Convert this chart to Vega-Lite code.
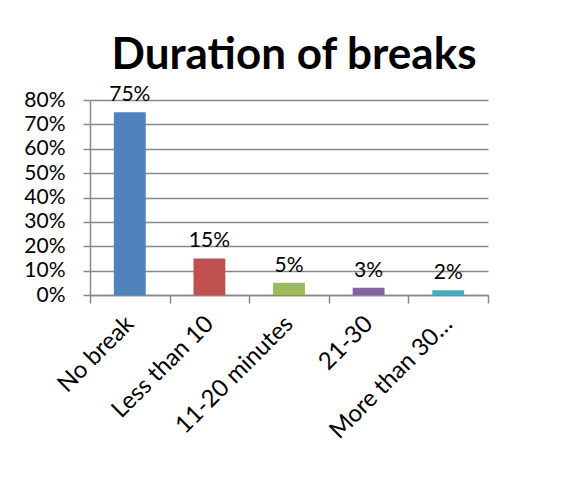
{
  "$schema": "https://vega.github.io/schema/vega-lite/v6.json",
  "autosize": "none",
  "width": 398,
  "height": 195,
  "padding": {"left": 90, "top": 100, "right": 79, "bottom": 190},
  "background": "white",
  "title": {
    "text": "Duration of breaks",
    "font": "Lato",
    "fontWeight": "bold",
    "fontSize": 44,
    "color": "black",
    "anchor": "middle",
    "baseline": "alphabetic",
    "dx": 5,
    "offset": -29
  },
  "data": {
    "values": [
      {"category": "No break", "share": 0.75},
      {"category": "Less than 10", "share": 0.15},
      {"category": "11-20 minutes", "share": 0.05},
      {"category": "21-30", "share": 0.03},
      {"category": "More than 30…", "share": 0.02}
    ]
  },
  "encoding": {
    "x": {
      "field": "category",
      "type": "nominal",
      "sort": null,
      "scale": {"paddingInner": 0, "paddingOuter": 0},
      "axis": {
        "title": null,
        "tickBand": "extent",
        "labelAngle": -45,
        "labelAlign": "right",
        "labelBaseline": "middle",
        "labelPadding": 17,
        "labelFont": "Lato",
        "labelFontSize": 24,
        "labelColor": "black",
        "tickColor": "#888888",
        "tickSize": 8,
        "tickWidth": 1.5,
        "domainColor": "#888888",
        "domainWidth": 1.5,
        "grid": false
      }
    },
    "y": {
      "field": "share",
      "type": "quantitative",
      "scale": {"domain": [0, 0.8]},
      "axis": {
        "title": null,
        "format": ".0%",
        "values": [0, 0.1, 0.2, 0.3, 0.4, 0.5, 0.6, 0.7, 0.8],
        "labelFont": "Lato",
        "labelFontSize": 21,
        "labelColor": "black",
        "labelPadding": 18,
        "tickColor": "#888888",
        "tickSize": 7,
        "tickWidth": 1.5,
        "domainColor": "#888888",
        "domainWidth": 1.5,
        "gridColor": "#888888",
        "gridWidth": 1.5
      }
    }
  },
  "layer": [
    {
      "mark": {"type": "bar", "width": {"band": 0.4}},
      "encoding": {
        "color": {
          "field": "category",
          "type": "nominal",
          "sort": null,
          "scale": {"range": ["#4F81BD", "#C0504D", "#9BBB59", "#8064A2", "#4BACC6"]},
          "legend": null
        }
      }
    },
    {
      "mark": {"type": "text", "baseline": "bottom", "dy": -7, "font": "Lato", "fontSize": 21, "color": "black"},
      "encoding": {
        "text": {"field": "share", "type": "quantitative", "format": ".0%"}
      }
    }
  ],
  "config": {"view": {"stroke": null}}
}
